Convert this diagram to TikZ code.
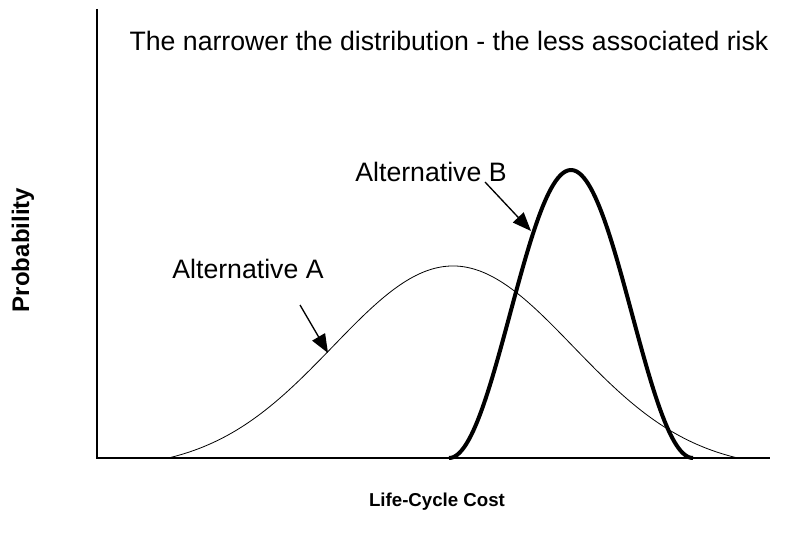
\documentclass[tikz,border=0pt]{standalone}
\usepackage{fontspec}
\setmainfont{Liberation Sans}
\usetikzlibrary{arrows.meta}
\begin{document}
\begin{tikzpicture}[x=0.75pt,y=-0.75pt,
	lbl/.style={font=\fontsize{20}{24}\selectfont, inner sep=0pt},
	axlbl/.style={font=\fontsize{14}{17}\selectfont\bfseries, inner sep=0pt},
	pointer/.style={line width=1pt,-{Triangle[length=14pt,width=11pt]}}]
			\useasboundingbox (0,0) rectangle (786,538);
			\draw [line width=1pt] (97,9) -- (97,458) -- (770,458);
			
			\draw [line width=0.6pt] plot[domain=170:738,samples=120,smooth] (\x,{458-192*(exp(-((\x-453)/120)^2/2)-0.06)/0.94});
			\draw [line width=3pt,line join=round] plot[domain=449:693,samples=120,smooth] (\x,{458-144*(1+cos(1.4754*(\x-571)))});
			
			\node [lbl] (title) at (449,41) {The narrower the distribution - the less associated risk};
			\node [lbl] (altB) at (431,172) {Alternative B};
			\node [lbl] (altA) at (248,269) {Alternative A};
			\node [axlbl] (cost) at (437,502) {Life-Cycle Cost};
			\node [axlbl,font=\fontsize{18}{21}\selectfont\bfseries,rotate=90] (prob) at (23,250) {Probability};
			
			\coordinate (tailB) at (485,182);
			\coordinate (tipB) at (531,231);
			\coordinate (tailA) at (300,305);
			\coordinate (tipA) at (328,353);
			\draw [pointer] (tailB) -- (tipB);
			\draw [pointer] (tailA) -- (tipA);
		\end{tikzpicture}
\end{document}
